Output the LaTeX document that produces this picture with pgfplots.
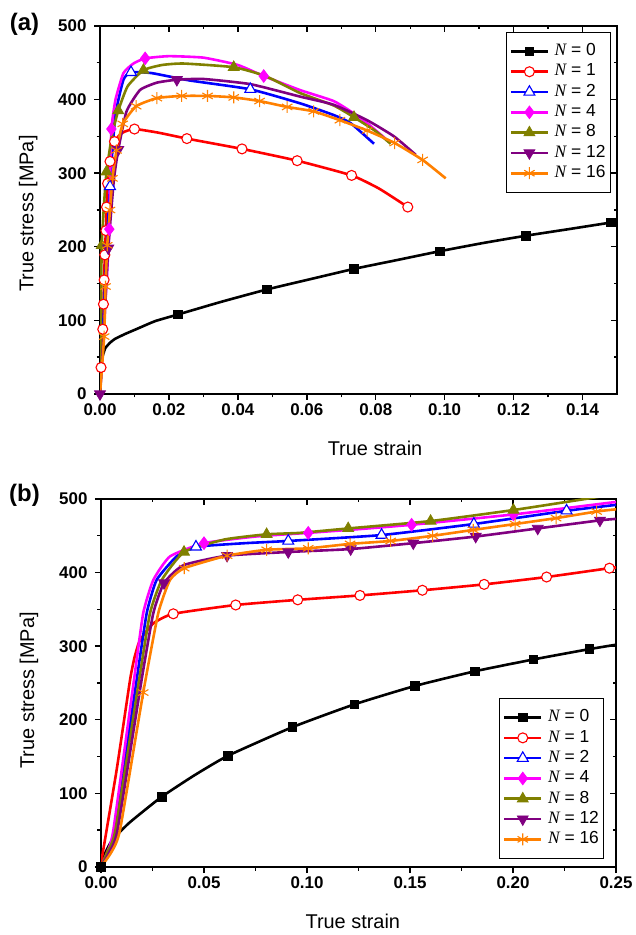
\documentclass[border=0pt]{standalone}
\usepackage{pgfplots}
\pgfplotsset{compat=1.18}
\usepackage{fontspec}
\setmainfont{Liberation Sans}
\newfontfamily\timesf{Liberation Serif}
\definecolor{cmag}{RGB}{255,0,255}
\definecolor{colive}{RGB}{128,128,0}
\definecolor{cpurp}{RGB}{128,0,128}
\definecolor{corange}{RGB}{255,128,0}
\newcommand{\NN}[1]{{\timesf\itshape N} = #1}
\newcommand{\lblfont}{\fontsize{20}{20}\selectfont}
\pgfplotsset{
  s0/.style={black, line width=2.6bp, mark=square*, mark size=4.3bp, mark options={solid, line width=0.8bp, fill=black}},
  s1/.style={red, line width=2.6bp, mark=*, mark size=5bp, mark options={solid, line width=1.1bp, fill=white}},
  s2/.style={blue, line width=2.6bp, mark=triangle*, mark size=6.3bp, mark options={solid, line width=1.1bp, fill=white}},
  s4/.style={cmag, line width=2.6bp, mark=diamond*, mark size=6.3bp, mark options={solid, line width=0.8bp, fill=cmag}},
  s8/.style={colive, line width=2.6bp, mark=triangle*, mark size=6.3bp, mark options={solid, line width=0.8bp, fill=colive}},
  s12/.style={cpurp, line width=2.6bp, mark=triangle*, mark size=6.3bp, mark options={solid, rotate=180, line width=0.8bp, fill=cpurp}},
  s16/.style={corange, line width=2.6bp, mark=asterisk, mark size=6bp, mark options={solid, line width=1.1bp}},
  ln/.style={no marks, smooth, tension=0.3, forget plot},
  mk/.style={only marks, forget plot},
  base/.style={
    scale only axis, anchor=south west,
    ymin=0, ymax=500, ytick={0,100,200,300,400,500}, minor y tick num=1,
    axis line style={line width=1.8bp},
    tick style={black, line width=1.4bp},
    major tick length=6bp, minor tick length=3.5bp,
    /pgf/number format/assume math mode=true,
    scaled x ticks=false,
  },
  front/.style={base, tick align=outside, xtick pos=left, ytick pos=left,
    tick label style={font=\fontsize{17}{17}\selectfont\bfseries},
    xticklabel style={/pgf/number format/.cd, fixed, fixed zerofill, precision=2},
    yticklabel style={xshift=-4bp},
    ylabel={True stress [MPa]}, xlabel={True strain},
    legend image code/.code={\draw[mark repeat=2,mark phase=2] plot coordinates {(0bp,0bp)(18.5bp,0bp)(37bp,0bp)};},
    legend cell align=left,
    legend style={draw=black, line width=0.8bp, fill=white, font=\fontsize{17.5}{17.5}\selectfont, inner xsep=3.3bp, inner ysep=9bp, column sep=4bp, row sep=0bp, nodes={text height=12.5bp, text depth=4bp, inner xsep=1.5bp, inner ysep=1.9bp}},
  },
  back/.style={base, tick align=inside, xtick pos=right, ytick pos=right, xticklabels={}, yticklabels={}, axis line style={draw=none}},
}
\begin{document}
\begin{tikzpicture}
\useasboundingbox (0,0) rectangle (636bp,935bp);
% ---------------- panel (a) ----------------
\begin{axis}[back, at={(100bp,541bp)}, width=517bp, height=368bp, xmin=0, xmax=0.15,
  xtick={0,0.02,0.04,0.06,0.08,0.10,0.12,0.14}, minor x tick num=1]
\end{axis}
\begin{axis}[front, at={(100bp,541bp)}, width=517bp, height=368bp, xmin=0, xmax=0.15,
  xtick={0,0.02,0.04,0.06,0.08,0.10,0.12,0.14}, minor x tick num=1,
  every axis y label/.style={at={(axis description cs:-0.139,0.49)}, rotate=90, anchor=center, font=\lblfont},
  every axis x label/.style={at={(axis description cs:0.532,-0.149)}, anchor=center, font=\lblfont},
  legend style={at={(0.988,0.984)}, anchor=north east}]
\addlegendimage{s0}\addlegendentry{\NN{0}}
\addlegendimage{s1}\addlegendentry{\NN{1}}
\addlegendimage{s2}\addlegendentry{\NN{2}}
\addlegendimage{s4}\addlegendentry{\NN{4}}
\addlegendimage{s8}\addlegendentry{\NN{8}}
\addlegendimage{s12}\addlegendentry{\NN{12}}
\addlegendimage{s16}\addlegendentry{\NN{16}}
% N=0
\addplot[s0, ln] coordinates {(0,0)(0.0002,20)(0.0005,46)(0.0015,62)(0.003,70)(0.0044,75)(0.0075,82)(0.0105,88)(0.016,99)(0.0226,108)(0.035,125)(0.0484,142)(0.061,156)(0.0737,170)(0.0862,182)(0.0986,194)(0.111,205)(0.1235,215)(0.136,224)(0.1483,233)(0.150,234)};
\addplot[s0, mk] coordinates {(0.0226,108)(0.0484,142)(0.0737,170)(0.0986,194)(0.1235,215)(0.1483,233)};
% N=1
\addplot[s1, ln] coordinates {(0,0)(0.0003,36)(0.0008,88)(0.001,122)(0.0012,155)(0.0014,189)(0.0017,222)(0.0019,254)(0.0022,286)(0.0029,316)(0.0042,343)(0.0065,355)(0.010,360)(0.0170,355)(0.0252,347)(0.0412,333)(0.0572,317)(0.073,297)(0.081,279)(0.0893,254)};
\addplot[s1, mk] coordinates {(0.0003,36)(0.0008,88)(0.001,122)(0.0012,155)(0.0014,189)(0.0017,222)(0.0019,254)(0.0022,286)(0.0029,316)(0.0042,343)(0.010,360)(0.0252,347)(0.0412,333)(0.0572,317)(0.073,297)(0.0893,254)};
% N=2
\addplot[s2, ln] coordinates {(0,0)(0.001,100)(0.002,200)(0.0029,282)(0.0044,377)(0.0068,427)(0.009,437)(0.015,436)(0.026,426)(0.0436,414)(0.058,395)(0.0678,379)(0.0727,368)(0.0795,340)};
\addplot[s2, mk] coordinates {(0.0029,282)(0.009,437)(0.0436,414)};
% N=4
\addplot[s4, ln] coordinates {(0,0)(0.001,80)(0.002,160)(0.0027,224)(0.0030,300)(0.0033,360)(0.0045,400)(0.0068,436)(0.0097,449)(0.0131,456)(0.02,459)(0.03,457)(0.04,447)(0.0475,432)(0.058,413)(0.0678,398)(0.0737,381)(0.0775,368)(0.0838,343)};
\addplot[s4, mk] coordinates {(0.0027,224)(0.0033,360)(0.0131,456)(0.0475,432)};
% N=8
\addplot[s8, ln] coordinates {(0,0)(0.0003,120)(0.0005,202)(0.0012,260)(0.0019,302)(0.0035,352)(0.0053,385)(0.008,418)(0.0126,440)(0.018,447)(0.0242,449)(0.0388,444)(0.048,432)(0.058,409)(0.0678,392)(0.0737,376)(0.08,357)(0.0843,340)};
\addplot[s8, mk] coordinates {(0.0005,202)(0.0019,302)(0.0053,385)(0.0126,440)(0.0388,444)(0.0737,376)};
% N=12
\addplot[s12, ln] coordinates {(0,0)(0.0008,60)(0.0016,130)(0.0024,198)(0.004,290)(0.0053,332)(0.0077,384)(0.0116,413)(0.0165,423)(0.0223,427)(0.03,428)(0.0436,421)(0.0581,404)(0.0678,393)(0.0775,372)(0.0853,350)(0.0916,325)};
\addplot[s12, mk] coordinates {(0,0)(0.0024,198)(0.0053,332)(0.0223,427)};
% N=16
\addplot[s16, ln] coordinates {(0,0)(0.0012,78)(0.0016,146)(0.0021,202)(0.0029,250)(0.0036,293)(0.0048,331)(0.0066,367)(0.0105,391)(0.0165,402)(0.0237,405)(0.0312,405)(0.0388,403)(0.0463,398)(0.0543,390)(0.062,384)(0.0696,372)(0.0775,358)(0.0855,341)(0.0936,318)(0.1003,293)};
\addplot[s16, mk] coordinates {(0.0012,78)(0.0016,146)(0.0021,202)(0.0029,250)(0.0036,293)(0.0048,331)(0.0066,367)(0.0105,391)(0.0165,402)(0.0237,405)(0.0312,405)(0.0388,403)(0.0463,398)(0.0543,390)(0.062,384)(0.0696,372)(0.0775,358)(0.0855,341)(0.0936,318)};
\end{axis}
\node[font=\fontsize{24}{24}\selectfont\bfseries] at (24.5bp,910.5bp) {(a)};
% ---------------- panel (b) ----------------
\begin{axis}[back, at={(101bp,68bp)}, width=515bp, height=368bp, xmin=0, xmax=0.25,
  xtick={0,0.05,0.10,0.15,0.20,0.25}, minor x tick num=1]
\end{axis}
\begin{axis}[front, at={(101bp,68bp)}, width=515bp, height=368bp, xmin=0, xmax=0.25,
  xtick={0,0.05,0.10,0.15,0.20,0.25}, minor x tick num=1,
  every axis y label/.style={at={(axis description cs:-0.14,0.48)}, rotate=90, anchor=center, font=\lblfont},
  every axis x label/.style={at={(axis description cs:0.489,-0.147)}, anchor=center, font=\lblfont},
  legend style={at={(0.977,0.022)}, anchor=south east}]
\addlegendimage{s0}\addlegendentry{\NN{0}}
\addlegendimage{s1}\addlegendentry{\NN{1}}
\addlegendimage{s2}\addlegendentry{\NN{2}}
\addlegendimage{s4}\addlegendentry{\NN{4}}
\addlegendimage{s8}\addlegendentry{\NN{8}}
\addlegendimage{s12}\addlegendentry{\NN{12}}
\addlegendimage{s16}\addlegendentry{\NN{16}}
% N=0
\addplot[s0, ln] coordinates {(0,0)(0.0019,18)(0.0044,32)(0.0068,41)(0.0133,59)(0.0189,72)(0.0295,95.5)(0.045,124)(0.0615,151)(0.0929,190)(0.123,221)(0.1524,246)(0.1816,266)(0.2099,282)(0.237,296)(0.25,302)};
\addplot[s0, mk] coordinates {(0,0)(0.0295,95.5)(0.0615,151)(0.0929,190)(0.123,221)(0.1524,246)(0.1816,266)(0.2099,282)(0.237,296)};
% N=1
\addplot[s1, ln] coordinates {(0,5)(0.0076,132)(0.0141,254)(0.0163,285)(0.0189,308)(0.0254,331)(0.0351,344)(0.0654,356)(0.0955,363)(0.1257,369)(0.156,376)(0.186,384)(0.2163,394)(0.2468,406)(0.25,407)};
\addplot[s1, mk] coordinates {(0.0351,344)(0.0654,356)(0.0955,363)(0.1257,369)(0.156,376)(0.186,384)(0.2163,394)(0.2468,406)};
% N=2
\addplot[s2, ln] coordinates {(0,0)(0.003,18)(0.0065,50)(0.0173,254)(0.0222,345)(0.027,390)(0.0367,422)(0.0461,435)(0.07,440)(0.0909,443)(0.1362,451)(0.181,466)(0.226,484)(0.25,492)};
\addplot[s2, mk] coordinates {(0.0461,435)(0.0909,443)(0.1362,451)(0.181,466)(0.226,484)};
% N=4
\addplot[s4, ln] coordinates {(0,0)(0.003,20)(0.006,50)(0.016,254)(0.0205,345)(0.0254,390)(0.0335,422)(0.05,440)(0.075,449)(0.1006,454)(0.125,459)(0.1508,465)(0.2002,479)(0.25,496)};
\addplot[s4, mk] coordinates {(0.05,440)(0.1006,454)(0.1508,465)(0.2002,479)};
% N=8
\addplot[s8, ln] coordinates {(0,0)(0.003,20)(0.007,50)(0.0185,254)(0.0238,345)(0.0295,390)(0.0403,428)(0.06,445)(0.0804,452)(0.0966,454)(0.12,460)(0.16,470)(0.2002,485)(0.235,500)(0.25,507)};
\addplot[s8, mk] coordinates {(0.0403,428)(0.0804,452)(0.12,460)(0.16,470)(0.2002,485)};
% N=12
\addplot[s12, ln] coordinates {(0,0)(0.004,20)(0.008,50)(0.0197,254)(0.0254,345)(0.0306,386)(0.04,410)(0.0612,423)(0.0909,428)(0.1212,432)(0.1516,440)(0.1819,449)(0.212,460)(0.2422,471)(0.25,473)};
\addplot[s12, mk] coordinates {(0.0306,386)(0.0612,423)(0.0909,428)(0.1212,432)(0.1516,440)(0.1819,449)(0.212,460)(0.2422,471)};
% N=16
\addplot[s16, ln] coordinates {(0,0)(0.005,20)(0.0092,50)(0.0205,237)(0.0278,345)(0.0335,390)(0.0404,406)(0.0612,423)(0.0804,431)(0.1006,433)(0.1209,439)(0.1406,443)(0.161,450)(0.1807,458)(0.201,466)(0.2209,474)(0.2406,483)(0.25,486)};
\addplot[s16, mk] coordinates {(0.0205,237)(0.0404,406)(0.0612,423)(0.0804,431)(0.1006,433)(0.1209,439)(0.1406,443)(0.161,450)(0.1807,458)(0.201,466)(0.2209,474)(0.2406,483)};
\end{axis}
\node[font=\fontsize{24}{24}\selectfont\bfseries] at (24.5bp,439.5bp) {(b)};
\end{tikzpicture}
\end{document}
